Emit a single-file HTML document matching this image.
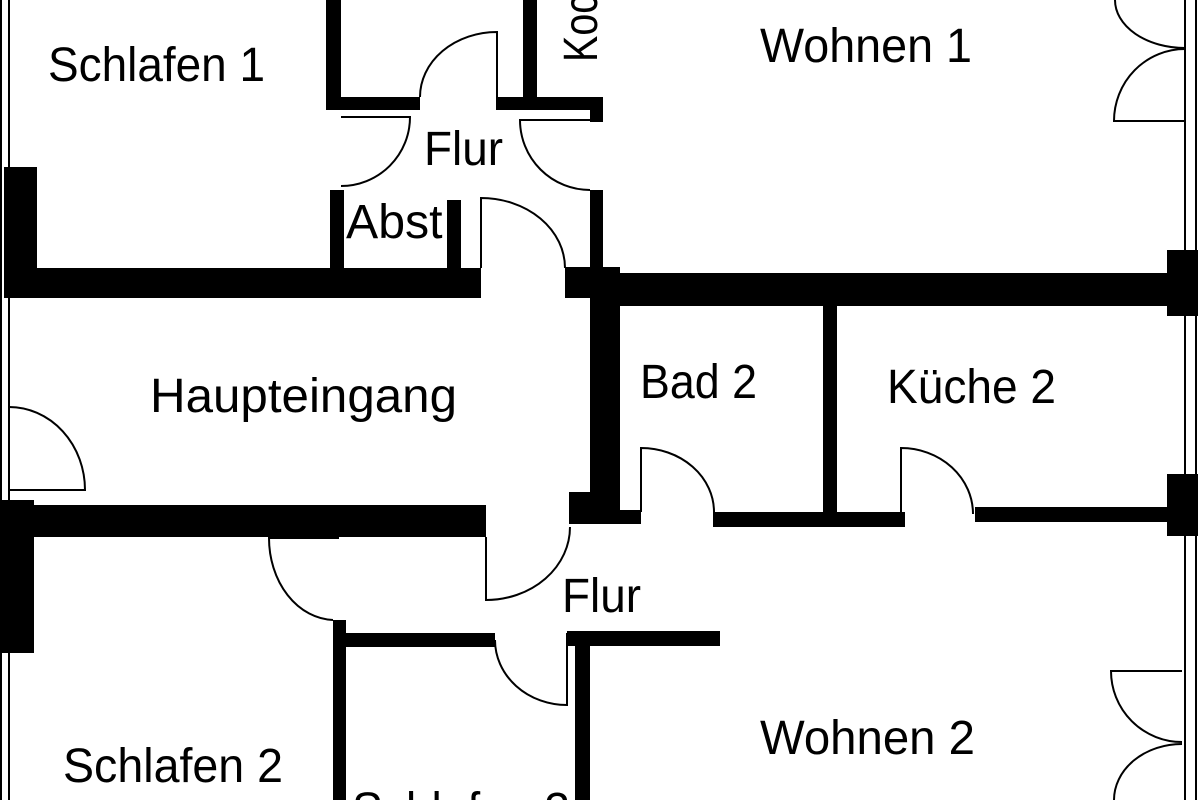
<!DOCTYPE html>
<html><head><meta charset="utf-8"><style>
html,body{margin:0;padding:0;background:#fff;}
svg{display:block;}
text{font-family:"Liberation Sans",sans-serif;font-size:48px;fill:#000;}
</style></head><body>
<svg width="1200" height="800" viewBox="0 0 1200 800" xmlns="http://www.w3.org/2000/svg">
<text x="48" y="81" textLength="217" lengthAdjust="spacingAndGlyphs">Schlafen 1</text>
<text x="424" y="165" textLength="79" lengthAdjust="spacingAndGlyphs">Flur</text>
<text x="346" y="238" textLength="110" lengthAdjust="spacingAndGlyphs">Abst.</text>
<text transform="translate(597,62) rotate(-90)" textLength="90" lengthAdjust="spacingAndGlyphs">Koch</text>
<text x="760" y="62" textLength="212" lengthAdjust="spacingAndGlyphs">Wohnen 1</text>
<text x="150" y="412" textLength="307" lengthAdjust="spacingAndGlyphs">Haupteingang</text>
<text x="640" y="398" textLength="117" lengthAdjust="spacingAndGlyphs">Bad 2</text>
<text x="887" y="403" textLength="169" lengthAdjust="spacingAndGlyphs">Küche 2</text>
<text x="562" y="612" textLength="79" lengthAdjust="spacingAndGlyphs">Flur</text>
<text x="760" y="754" textLength="215" lengthAdjust="spacingAndGlyphs">Wohnen 2</text>
<text x="63" y="782" textLength="220" lengthAdjust="spacingAndGlyphs">Schlafen 2</text>
<text x="352" y="826" textLength="218" lengthAdjust="spacingAndGlyphs">Schlafen 3</text>

<g fill="none" stroke="#000" stroke-width="2">
<line x1="1" y1="0" x2="1" y2="800"/>
<line x1="9" y1="0" x2="9" y2="800"/>
<line x1="1185" y1="0" x2="1185" y2="800"/>
<line x1="1196" y1="0" x2="1196" y2="800"/>
<path d="M341,117 L410,117 A69,69 0 0 1 341,186"/>
<path d="M420,97 A77,65 0 0 1 497,32 L497,97"/>
<path d="M590,120 L520,120 A70,70 0 0 0 590,190"/>
<path d="M481,268 L481,198 A84,70 0 0 1 565,268"/>
<path d="M9,490 L85,490 A76,83 0 0 0 9,407"/>
<path d="M339,538 L269,538 A66,82 0 0 0 333,620"/>
<path d="M486,537 L486,600 A84,73 0 0 0 570,527"/>
<path d="M495,640 A72,65 0 0 0 567,705 L567,633"/>
<path d="M641,512 L641,448 A73,64 0 0 1 714,512"/>
<path d="M901,512 L901,448 A72,66 0 0 1 973,514"/>
<path d="M1115,0 A70,48 0 0 0 1185,48"/>
<path d="M1185,49 A71,72 0 0 0 1114,121 L1185,121"/>
<path d="M1182,671 L1111,671 A71,71 0 0 0 1182,742"/>
<path d="M1182,744 A68,56 0 0 0 1114,800"/>
</g>

<g fill="#000">
<rect x="326" y="0" width="15" height="110"/>
<rect x="326" y="97" width="94" height="13"/>
<rect x="496" y="97" width="107" height="13"/>
<rect x="523" y="0" width="14" height="110"/>
<rect x="590" y="97" width="13" height="25"/>
<rect x="590" y="190" width="13" height="90"/>
<rect x="330" y="190" width="14" height="85"/>
<rect x="447" y="200" width="14" height="75"/>
<rect x="4" y="167" width="33" height="131"/>
<rect x="4" y="268" width="477" height="30"/>
<rect x="565" y="267" width="55" height="31"/>
<rect x="590" y="273" width="580" height="33"/>
<rect x="1167" y="250" width="31" height="66"/>
<rect x="590" y="273" width="30" height="250"/>
<rect x="569" y="492" width="51" height="32"/>
<rect x="619" y="510" width="22" height="14"/>
<rect x="713" y="512" width="192" height="15"/>
<rect x="823" y="306" width="14" height="210"/>
<rect x="975" y="507" width="195" height="15"/>
<rect x="1167" y="474" width="31" height="62"/>
<rect x="0" y="505" width="486" height="32"/>
<rect x="0" y="500" width="34" height="153"/>
<rect x="333" y="633" width="162" height="14"/>
<rect x="333" y="620" width="13" height="180"/>
<rect x="567" y="631" width="153" height="15"/>
<rect x="575" y="631" width="15" height="169"/>
</g>
</svg>
</body></html>
